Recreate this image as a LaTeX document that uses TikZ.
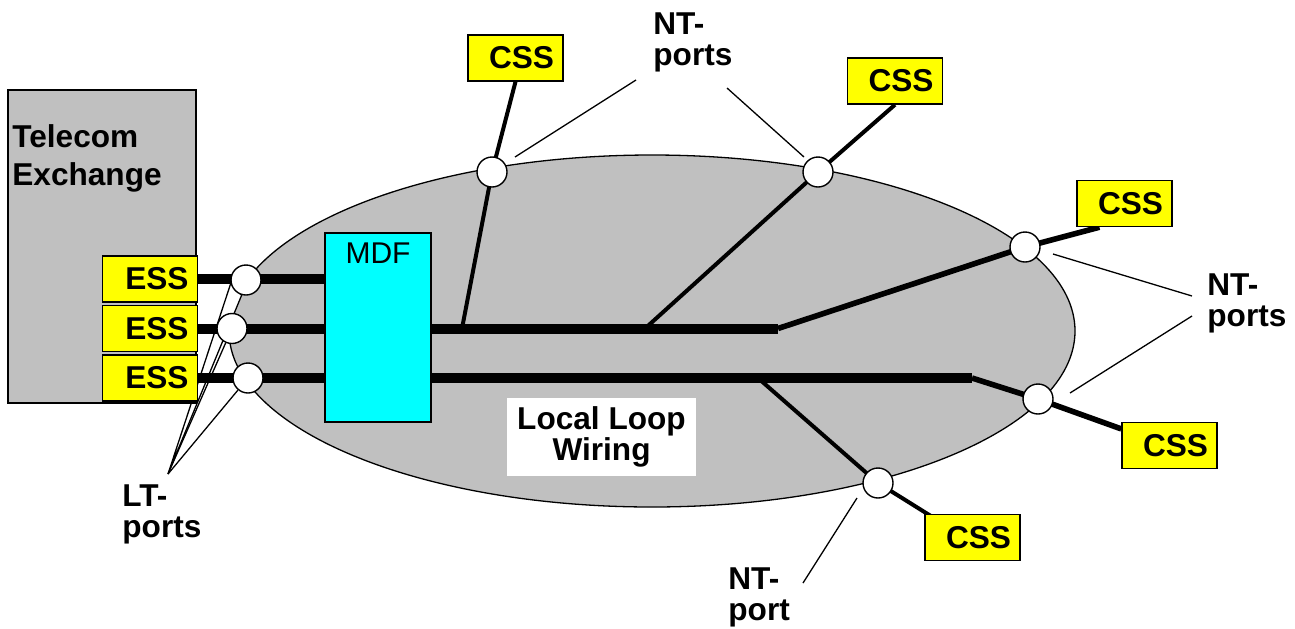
\documentclass[tikz,border=0pt]{standalone}
\usepackage{fontspec}
\setmainfont{Liberation Sans}
\usetikzlibrary{calc}
\pgfdeclarelayer{bg}
\pgfdeclarelayer{wires}
\pgfsetlayers{bg,wires,main}
\definecolor{panel}{HTML}{C0C0C0}
\definecolor{ssy}{HTML}{FFFF00}
\definecolor{mdfc}{HTML}{00FFFF}
\begin{document}
\begin{tikzpicture}[x=0.5pt,y=-0.5pt,
  bfont/.style={font=\bfseries\fontsize{15.8}{15.5}\selectfont},
  lbl/.style={bfont, align=left, inner sep=0pt, anchor=north west},
  subsys/.style={draw, fill=ssy, line width=0.7pt, minimum width=47.5pt, minimum height=23pt,
    text width=38.5pt, align=right, inner xsep=4.5pt, inner ysep=0pt, bfont},
  port/.style={circle, draw, fill=white, line width=0.7pt, minimum size=15pt, inner sep=0pt},
  trunk/.style={line width=5pt},
  feeder/.style={line width=2.8pt},
  branch/.style={line width=2pt},
  leader/.style={line width=0.65pt}]
\useasboundingbox (0,0) rectangle (1295,628);

% local loop area
\begin{pgfonlayer}{bg}
  \draw[fill=panel, line width=0.65pt] (652,331) ellipse [x radius=211.5pt, y radius=88pt];
\end{pgfonlayer}

% exchange
\node[draw, fill=panel, line width=0.7pt, minimum width=94pt, minimum height=156.5pt, inner sep=0pt] (exch) at (102,246.5) {};
\node[align=left, inner sep=0pt, anchor=north west, font=\bfseries\fontsize{15.8}{19}\selectfont] (exchtxt) at (12,124) {Telecom\\Exchange};

\node[subsys] (ess1) at (150,279) {ESS};
\node[subsys] (ess2) at (150,328.5) {ESS};
\node[subsys] (ess3) at (150,378) {ESS};

% MDF
\node[draw, fill=mdfc, line width=0.7pt, minimum width=53pt, minimum height=94.5pt, inner sep=0pt,
  label={[anchor=north, inner sep=0pt, yshift=-5pt, font=\fontsize{15}{15}\selectfont]north:MDF}] (mdf) at (378,327.5) {};

% local loop wiring label
\node[fill=white, minimum width=94.5pt, minimum height=39pt, inner sep=0pt, align=center, bfont] (llw) at (601.5,437) {Local Loop\\Wiring};

% customer subsystems
\node[subsys] (css1) at (515.5,58) {CSS};
\node[subsys] (css2) at (895,81) {CSS};
\node[subsys] (css3) at (1124.5,203.5) {CSS};
\node[subsys] (css4) at (1169.5,445.5) {CSS};
\node[subsys] (css5) at (972.5,537.5) {CSS};

% ports
\node[port] (c1) at (246,280) {};
\node[port] (c2) at (232,328.5) {};
\node[port] (c3) at (248,378) {};
\node[port] (pA) at (492,172) {};
\node[port] (pB) at (818,172) {};
\node[port] (pC) at (1025,247) {};
\node[port] (pD) at (1038,399) {};
\node[port] (pE) at (878,483) {};

% labels
\node[lbl] (ntTop) at (653,12) {NT-\\ports};
\node[lbl] (ntRight) at (1207,273) {NT-\\ports};
\node[lbl] (ntBot) at (728,567) {NT-\\port};
\node[lbl] (ltLbl) at (122,484) {LT-\\ports};

% junctions and free ends
\coordinate (t2e) at (778,328.5);
\coordinate (t3e) at (972,378);
\coordinate (ja) at (462,328.5);
\coordinate (jb) at (645,328.5);
\coordinate (je) at (758,378);
\coordinate (lt) at (168,474);
\coordinate (lA1) at (636,80);  \coordinate (lA2) at (515,157);
\coordinate (lB1) at (727,88);  \coordinate (lB2) at (804,157);
\coordinate (lC1) at (1192,296); \coordinate (lC2) at (1053,254);
\coordinate (lD1) at (1192,316); \coordinate (lD2) at (1070,393);
\coordinate (lE1) at (803,583); \coordinate (lE2) at (857,498);

\begin{pgfonlayer}{wires}
  % LT leaders
  \draw[leader, fill=white] (lt) -- (c1.193) -- (c1.254) -- cycle;
  \draw[leader] (lt) -- (c2);
  \draw[leader] (lt) -- (c3);
  % trunks
  \draw[trunk] (ess1.east) -- (ess1.east -| mdf.west);
  \draw[trunk] (ess2.east) -- (ess2.east -| mdf.west);
  \draw[trunk] (ess3.east) -- (ess3.east -| mdf.west);
  \draw[trunk] (mdf.east |- ess2.east) -- (t2e);
  \draw[trunk] (mdf.east |- ess3.east) -- (t3e);
  % branches
  \draw[branch] (ja) -- (pA.center) -- (css1.south);
  \draw[branch] (jb) -- (pB.center) -- (css2.south);
  \draw[feeder] (t2e) -- (pC.center) -- ($(css3.south west)!0.24!(css3.south east)$);
  \draw[feeder] (t3e) -- (pD.center) -- ($(css4.north west)!0.15!(css4.south west)$);
  \draw[branch] (je) -- (pE.center) -- ($(css5.north west)!0.15!(css5.south east)$);
  % NT leaders
  \draw[leader] (lA1) -- (lA2);
  \draw[leader] (lB1) -- (lB2);
  \draw[leader] (lC1) -- (lC2);
  \draw[leader] (lD1) -- (lD2);
  \draw[leader] (lE1) -- (lE2);
\end{pgfonlayer}
\end{tikzpicture}
\end{document}
